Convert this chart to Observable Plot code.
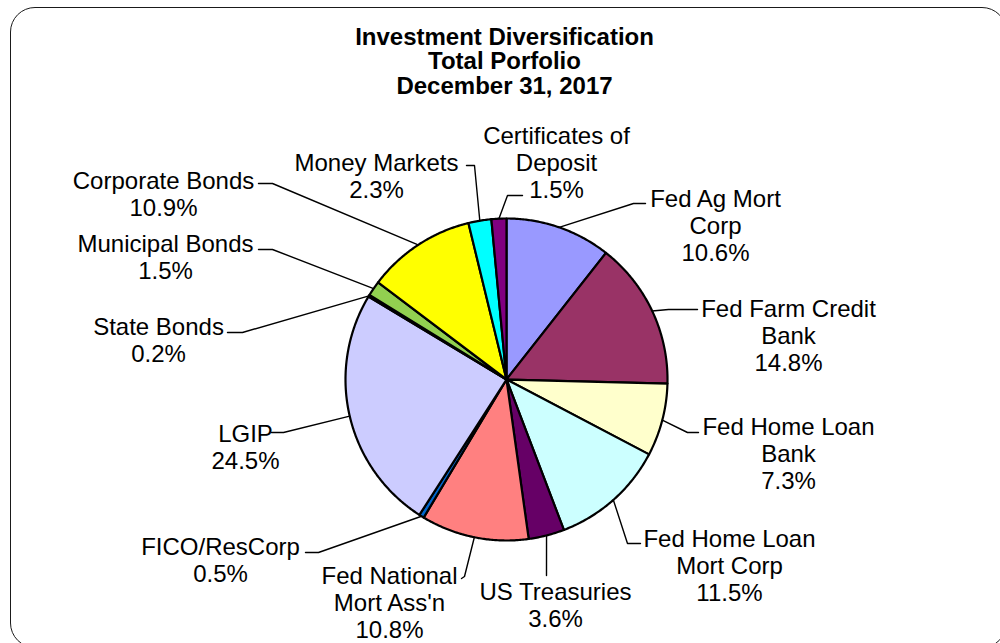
<!DOCTYPE html>
<html>
<head>
<meta charset="utf-8">
<script src="https://cdn.jsdelivr.net/npm/d3@7"></script>
<script src="https://cdn.jsdelivr.net/npm/@observablehq/plot@0.6"></script>
<style>
  html, body { margin: 0; padding: 0; background: #fff; overflow: hidden; width: 1000px; height: 643px; }
  #wrap { position: relative; width: 1000px; height: 643px; overflow: hidden; }
  #frame { position: absolute; left: 9.5px; top: 6.5px; width: 997px; height: 641px; border: 1.3px solid #1a1a1a; border-radius: 25px; box-sizing: border-box; }
  #chart { position: absolute; left: 0; top: 0; }
</style>
</head>
<body>
<div id="wrap"><div id="frame"></div><div id="chart"></div></div>
<script>
// ---- data ----
const titleLines = ["Investment Diversification", "Total Porfolio", "December 31, 2017"];
const categories = ["Fed Ag Mort Corp", "Fed Farm Credit Bank", "Fed Home Loan Bank", "Fed Home Loan Mort Corp",
  "US Treasuries", "Fed National Mort Ass'n", "FICO/ResCorp", "LGIP", "State Bonds", "Municipal Bonds",
  "Corporate Bonds", "Money Markets", "Certificates of Deposit"];
const labelNames = ["Fed Ag Mort\nCorp", "Fed Farm Credit\nBank", "Fed Home Loan\nBank", "Fed Home Loan\nMort Corp",
  "US Treasuries", "Fed National\nMort Ass'n", "FICO/ResCorp", "LGIP", "State Bonds", "Municipal Bonds",
  "Corporate Bonds", "Money Markets", "Certificates of\nDeposit"];
const values = [10.6, 14.8, 7.3, 11.5, 3.6, 10.8, 0.5, 24.5, 0.2, 1.5, 10.9, 2.3, 1.5];
const colors = ["#9999FF", "#993366", "#FFFFCC", "#CCFFFF", "#660066", "#FF8080", "#0066CC", "#CCCCFF",
  "#000080", "#92D050", "#FFFF00", "#00FFFF", "#800080"];

// ---- layout (pixel units of the 1000x643 canvas) ----
const pie = {cx: 506, cy: 379, r: 161};
const labelFont = 24, labelLine = 27;
// label: [center x, baseline of first line]
const labelPos = [[715, 204], [788, 314], [788, 432], [729, 544], [555, 597], [389, 581], [220, 552],
  [245, 439], [158, 332], [165, 249], [163, 186], [376, 168], [556, 141]];
// leader: [elbow, end]
const leaderPos = [
  [[633, 203], [645, 203]], [[668, 309], [697, 309]], [[687, 432], [698, 432]], [[627, 543], [640, 543]],
  [[546, 575], [546, 575]], [[464, 576], [461, 578]], [[318, 552], [305, 552]], [[283, 432], [271, 432]],
  [[242, 332], [227, 332]], [[272, 249], [258, 249]], [[272, 183], [258, 183]], [[474, 165], [466, 165]],
  [[507, 195], [522, 195]]];

// ---- derived ----
const arcs = d3.pie().sort(null).startAngle(0).endAngle(2 * Math.PI)(values);
const px = a => pie.cx + pie.r * Math.sin(a);
const py = a => pie.cy - pie.r * Math.cos(a);

const slicePts = [];
arcs.forEach((a, i) => {
  slicePts.push({k: i, x: pie.cx, y: pie.cy, fill: colors[i]});
  const n = Math.max(2, Math.ceil((a.endAngle - a.startAngle) / (Math.PI / 360)));
  for (let j = 0; j <= n; j++) {
    const t = a.startAngle + (a.endAngle - a.startAngle) * j / n;
    slicePts.push({k: i, x: px(t), y: py(t), fill: colors[i]});
  }
  slicePts.push({k: i, x: pie.cx, y: pie.cy, fill: colors[i]});
});

const leaderPts = [];
arcs.forEach((a, i) => {
  const m = (a.startAngle + a.endAngle) / 2;
  leaderPts.push({k: i, x: px(m), y: py(m)});
  leaderPts.push({k: i, x: leaderPos[i][0][0], y: leaderPos[i][0][1]});
  leaderPts.push({k: i, x: leaderPos[i][1][0], y: leaderPos[i][1][1]});
});

const labels = categories.map((c, i) => ({
  text: labelNames[i] + "\n" + values[i].toFixed(1) + "%",
  x: labelPos[i][0],
  y: labelPos[i][1] - 0.71 * labelFont
}));

const chart = Plot.plot({
  width: 1000, height: 643, margin: 0,
  x: {domain: [0, 1000], range: [0, 1000], axis: null},
  y: {domain: [0, 643], range: [0, 643], axis: null},
  color: {type: "identity"},
  style: {background: "transparent", fontFamily: "'Liberation Sans', Arial, sans-serif", color: "#000"},
  marks: [
    Plot.line(slicePts, {x: "x", y: "y", z: "k", fill: "fill", stroke: "#000", strokeWidth: 2.2, strokeLinejoin: "round"}),
    Plot.line(leaderPts, {x: "x", y: "y", z: "k", stroke: "#000", strokeWidth: 1.4}),
    Plot.text(labels, {x: "x", y: "y", text: "text", fontSize: labelFont, lineHeight: labelLine / labelFont,
      lineAnchor: "top", textAnchor: "middle", fill: "#000"}),
    Plot.text([titleLines.join("\n")], {frameAnchor: "top", dx: 4, dy: 27, text: d => d, fontSize: 24, fontWeight: "bold",
      lineHeight: 24.5 / 24, lineAnchor: "top", textAnchor: "middle", fill: "#000"})
  ]
});
document.getElementById("chart").appendChild(chart);
</script>
</body>
</html>
